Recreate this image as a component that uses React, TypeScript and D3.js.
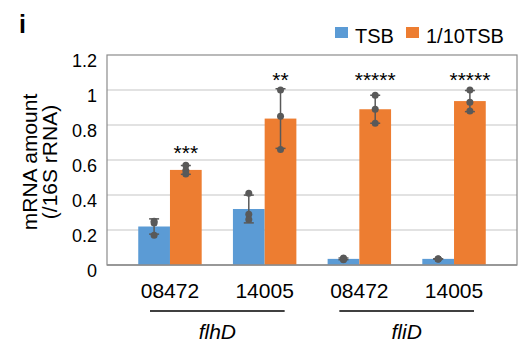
import React from 'react';
import * as d3 from 'd3';

// strains and genes along the x axis
const strains = ['08472', '14005', '08472', '14005'];
const genes = ['flhD', 'fliD'];
const seriesNames = ['TSB', '1/10TSB'];
const seriesColors = ['#5B9BD5', '#ED7D31'];

// replicate values (mRNA / 16S rRNA), one triple per bar
const tsbReps = [
  [0.25, 0.24, 0.17],
  [0.41, 0.29, 0.26],
  [0.04, 0.035, 0.03],
  [0.035, 0.035, 0.035],
];
const dilutedReps = [
  [0.57, 0.54, 0.52],
  [1.0, 0.85, 0.66],
  [0.97, 0.89, 0.81],
  [1.0, 0.93, 0.88],
];
const stars = ['***', '**', '*****', '*****'];
const yTicks = [0, 0.2, 0.4, 0.6, 0.8, 1, 1.2];

const W = 521;
const H = 343;
const left = 107;
const right = 517;
const top = 55;
const bottom = 265;
const font = 'Liberation Sans, Arial, sans-serif';

const App = () => {
  const x = d3
    .scaleBand<number>()
    .domain(strains.map((s, i) => i))
    .range([left, right])
    .paddingInner(0.33)
    .paddingOuter(0.33);
  const bw = x.bandwidth() / 2;
  const y = d3.scaleLinear().domain([0, 1.2]).range([bottom, top]);

  const series = [tsbReps, dilutedReps];

  return (
    <svg width={W} height={H} style={{ position: 'absolute', left: 0, top: 0, background: '#fff' }} fontFamily={font}>
      <text x={19} y={33} fontSize={25} fontWeight="bold">i</text>

      {/* legend */}
      {seriesNames.map((n, i) => {
        const lx = i === 0 ? 335 : 406;
        return (
          <g key={n}>
            <rect x={lx} y={27} width={13} height={11} fill={seriesColors[i]} />
            <text x={lx + 20} y={43} fontSize={20}>{n}</text>
          </g>
        );
      })}

      {/* gridlines */}
      {yTicks.filter((t) => t > 0 && t < 1.2).map((t) => (
        <line key={t} x1={left} x2={right} y1={y(t)} y2={y(t)} stroke="#d9d9d9" strokeWidth={1.5} />
      ))}
      <rect x={left} y={top} width={right - left} height={bottom - top} fill="none" stroke="#8c8c8c" strokeWidth={1.2} />

      {/* y ticks */}
      {yTicks.map((t) => (
        <text key={t} x={97} y={y(t) + 12} fontSize={18} textAnchor="end">{t}</text>
      ))}
      <g transform={`translate(0,162) rotate(-90)`}>
        <text x={0} y={37} fontSize={21} textAnchor="middle">mRNA amount</text>
        <text x={0} y={57} fontSize={21} textAnchor="middle">(/16S rRNA)</text>
      </g>

      {/* bars, error bars, points */}
      {series.map((reps, si) =>
        reps.map((vals, i) => {
          const m = d3.mean(vals) as number;
          const sd = d3.deviation(vals) || 0;
          const bx = (x(i) as number) + si * bw;
          const cx = bx + bw / 2;
          return (
            <g key={`${si}-${i}`}>
              <rect x={bx} y={y(m)} width={bw} height={y(0) - y(m)} fill={seriesColors[si]} />
              <line x1={cx} x2={cx} y1={y(m + sd)} y2={y(m - sd)} stroke="#595959" strokeWidth={1.5} />
              <line x1={cx - 5} x2={cx + 5} y1={y(m + sd)} y2={y(m + sd)} stroke="#595959" strokeWidth={1.5} />
              <line x1={cx - 5} x2={cx + 5} y1={y(m - sd)} y2={y(m - sd)} stroke="#595959" strokeWidth={1.5} />
              {vals.map((v, k) => (
                <circle key={k} cx={cx} cy={y(v)} r={3.5} fill="#595959" />
              ))}
            </g>
          );
        })
      )}
      <line x1={left} x2={right} y1={bottom} y2={bottom} stroke="#8c8c8c" strokeWidth={1.5} />

      {/* significance */}
      {stars.map((s, i) => {
        const cx = (x(i) as number) + bw * 1.5;
        return (
          <text key={i} x={cx} y={i === 0 ? 160 : 87} fontSize={21} textAnchor="middle">{s}</text>
        );
      })}

      {/* x labels */}
      {strains.map((s, i) => (
        <text key={i} x={(x(i) as number) + bw} y={298} fontSize={21} textAnchor="middle">{s}</text>
      ))}
      {genes.map((g, gi) => {
        const x0 = (x(gi * 2) as number) + bw - 20;
        const x1 = (x(gi * 2 + 1) as number) + bw + 20;
        return (
          <g key={g}>
            <line x1={x0} x2={x1} y1={311} y2={311} stroke="#000" strokeWidth={1.3} />
            <text x={(x0 + x1) / 2} y={339} fontSize={21} fontStyle="italic" textAnchor="middle">{g}</text>
          </g>
        );
      })}
    </svg>
  );
};

export default App;
